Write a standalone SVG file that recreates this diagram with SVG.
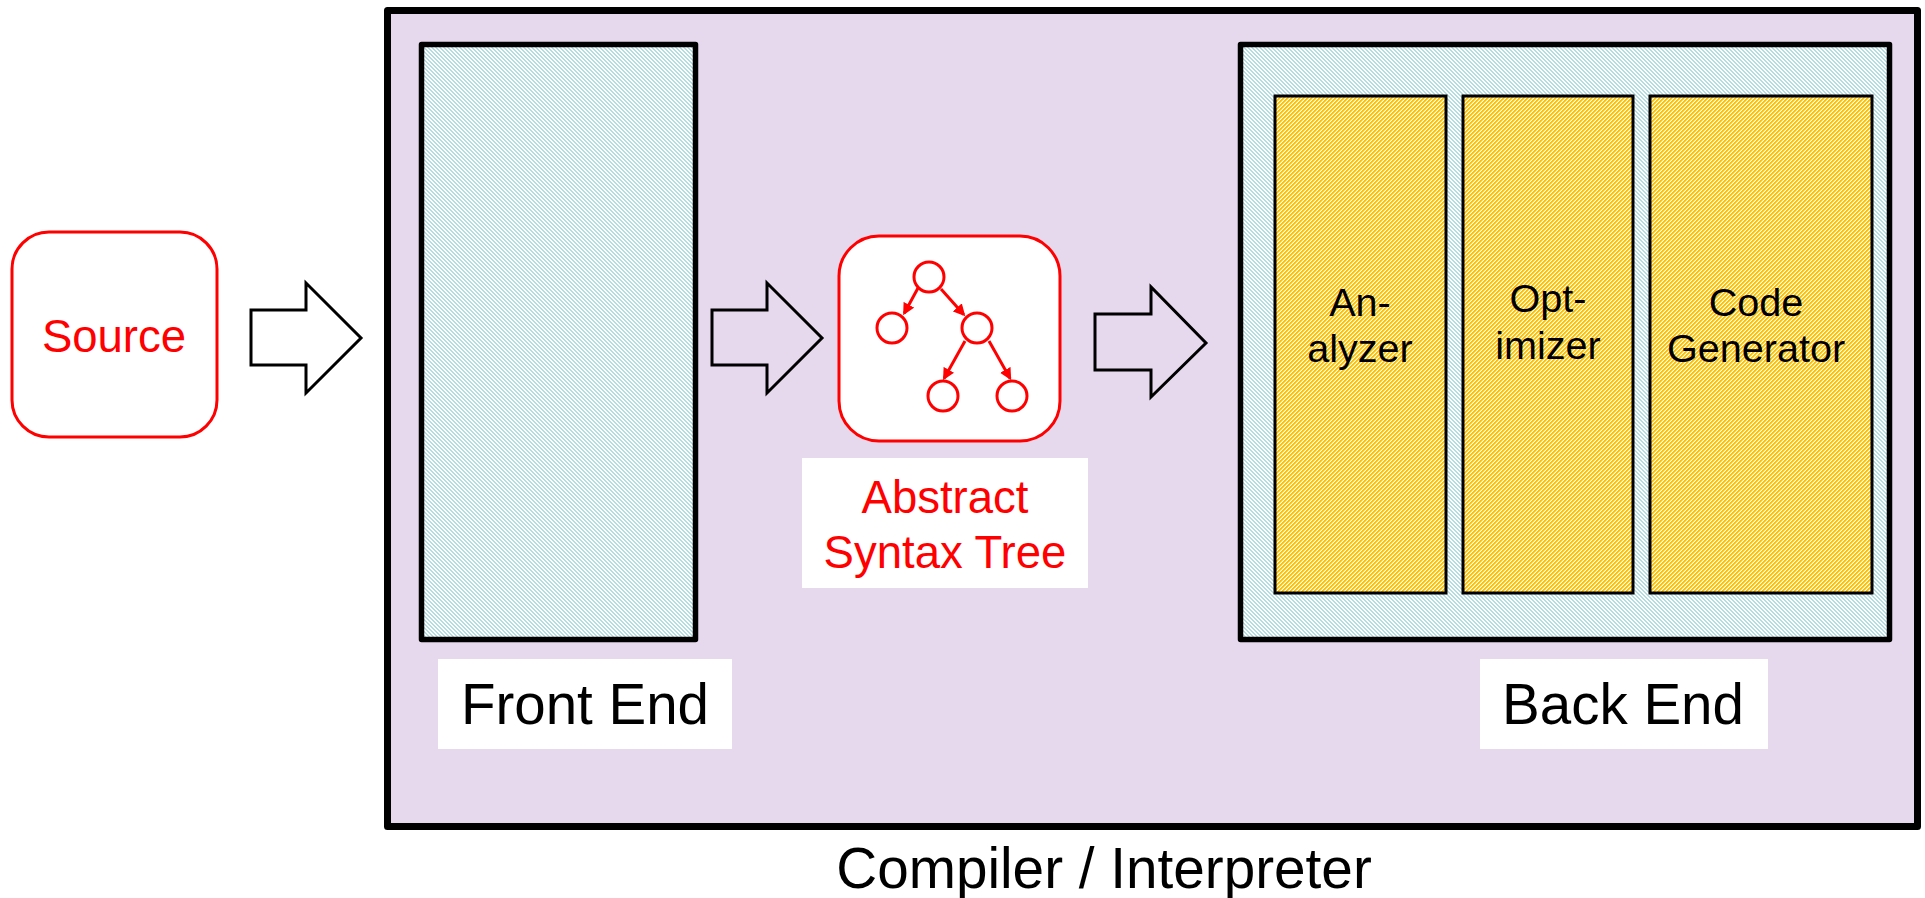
<svg xmlns="http://www.w3.org/2000/svg" width="1925" height="898" viewBox="0 0 1925 898">
<style>
text{font-family:"Liberation Sans",Arial,sans-serif;text-anchor:middle}
.t56{font-size:56.5px;fill:#000}
.t57{font-size:56.7px;fill:#000}
.t40{font-size:39.6px;fill:#000}
.red{font-size:45.5px;fill:#f00}
.panel{stroke:#000;stroke-width:5.5;stroke-linejoin:round;fill:url(#teal)}
.stage{stroke:#000;stroke-width:3;fill:url(#gold)}
.rr{fill:#fff;stroke:#f00;stroke-width:3}
.arrow{fill:none;stroke:#000;stroke-width:3}
.cir{fill:#fff;stroke:#f00;stroke-width:3}
.edge{stroke:#f00;stroke-width:3;fill:none;marker-end:url(#ah)}
</style>
<defs>
<pattern id="teal" width="4" height="4" patternUnits="userSpaceOnUse">
<rect width="4" height="4" fill="#fff"/>
<path d="M0 0h2v1h-2zM1 1h2v1h-2zM2 2h2v1h-2zM3 3h1v1h-1zM0 3h1v1h-1z" fill="#b4dde2" shape-rendering="crispEdges"/>
</pattern>
<pattern id="gold" width="4" height="4" patternUnits="userSpaceOnUse">
<rect width="4" height="4" fill="#fff"/>
<path d="M2 0h1v1h-1zM1 1h1v1h-1zM0 2h1v1h-1zM3 3h1v1h-1z" fill="#ffdf7a" shape-rendering="crispEdges"/>
<path d="M0 0h2v1h-2zM0 1h1v1h-1zM3 1h1v1h-1zM2 2h2v1h-2zM1 3h2v1h-2z" fill="#ffc000" shape-rendering="crispEdges"/>
</pattern>
<marker id="ah" viewBox="0 0 10 10" refX="8" refY="5" markerWidth="12" markerHeight="12" markerUnits="userSpaceOnUse" orient="auto">
<path d="M0 0L10 5L0 10z" fill="#f00"/>
</marker>
</defs>
<g id="compiler">
<rect x="387.5" y="10.5" width="1530" height="816" fill="#e6d9ee" stroke="#000" stroke-width="7" stroke-linejoin="round"/>
<text class="t57" x="1104" y="888">Compiler / Interpreter</text>
</g>
<g id="source">
<rect class="rr" x="12" y="232" width="205" height="205" rx="37"/>
<text class="red" x="114" y="352">Source</text>
</g>
<g id="front-end">
<rect class="panel" x="421.5" y="44.5" width="274" height="595"/>
<rect x="438" y="659" width="294" height="90" fill="#fff"/>
<text class="t56" x="585" y="724">Front End</text>
</g>
<g id="ast">
<rect class="rr" x="839" y="236" width="221" height="205" rx="40"/>
<circle class="cir" cx="929" cy="277" r="15"/>
<circle class="cir" cx="892" cy="328" r="15"/>
<circle class="cir" cx="977" cy="328" r="15"/>
<circle class="cir" cx="943" cy="396" r="15"/>
<circle class="cir" cx="1012" cy="396" r="15"/>
<rect x="802" y="458" width="286" height="130" fill="#fff"/>
<text class="red" x="945" y="513">Abstract</text>
<text class="red" x="945" y="568">Syntax Tree</text>
</g>
<g id="back-end">
<rect class="panel" x="1240.5" y="44.5" width="649" height="595"/>
<rect x="1480" y="659" width="288" height="90" fill="#fff"/>
<text class="t56" x="1623" y="724">Back End</text>
</g>
<g id="analyzer">
<rect class="stage" x="1275" y="96" width="171" height="497"/>
<text class="t40" x="1360" y="316">An-</text>
<text class="t40" x="1360" y="362">alyzer</text>
</g>
<g id="optimizer">
<rect class="stage" x="1463" y="96" width="170" height="497"/>
<text class="t40" x="1548" y="312">Opt-</text>
<text class="t40" x="1548" y="359">imizer</text>
</g>
<g id="code-generator">
<rect class="stage" x="1650" y="96" width="222" height="497"/>
<text class="t40" x="1756" y="316">Code</text>
<text class="t40" x="1756" y="362">Generator</text>
</g>
<g id="connectors">
<path class="arrow" d="M251 310H306V283L361 338L306 393V365H251Z"/>
<path class="arrow" d="M712 310H767V283L822 338L767 393V365H712Z"/>
<path class="arrow" d="M1095 314H1151V287L1206 343L1151 397V370H1095Z"/>
<path class="edge" d="M918 288L904.3 313.2"/>
<path class="edge" d="M941 289L963.7 314.5"/>
<path class="edge" d="M965 341L944.2 378.2"/>
<path class="edge" d="M989 341L1010 378.2"/>
</g>
</svg>
